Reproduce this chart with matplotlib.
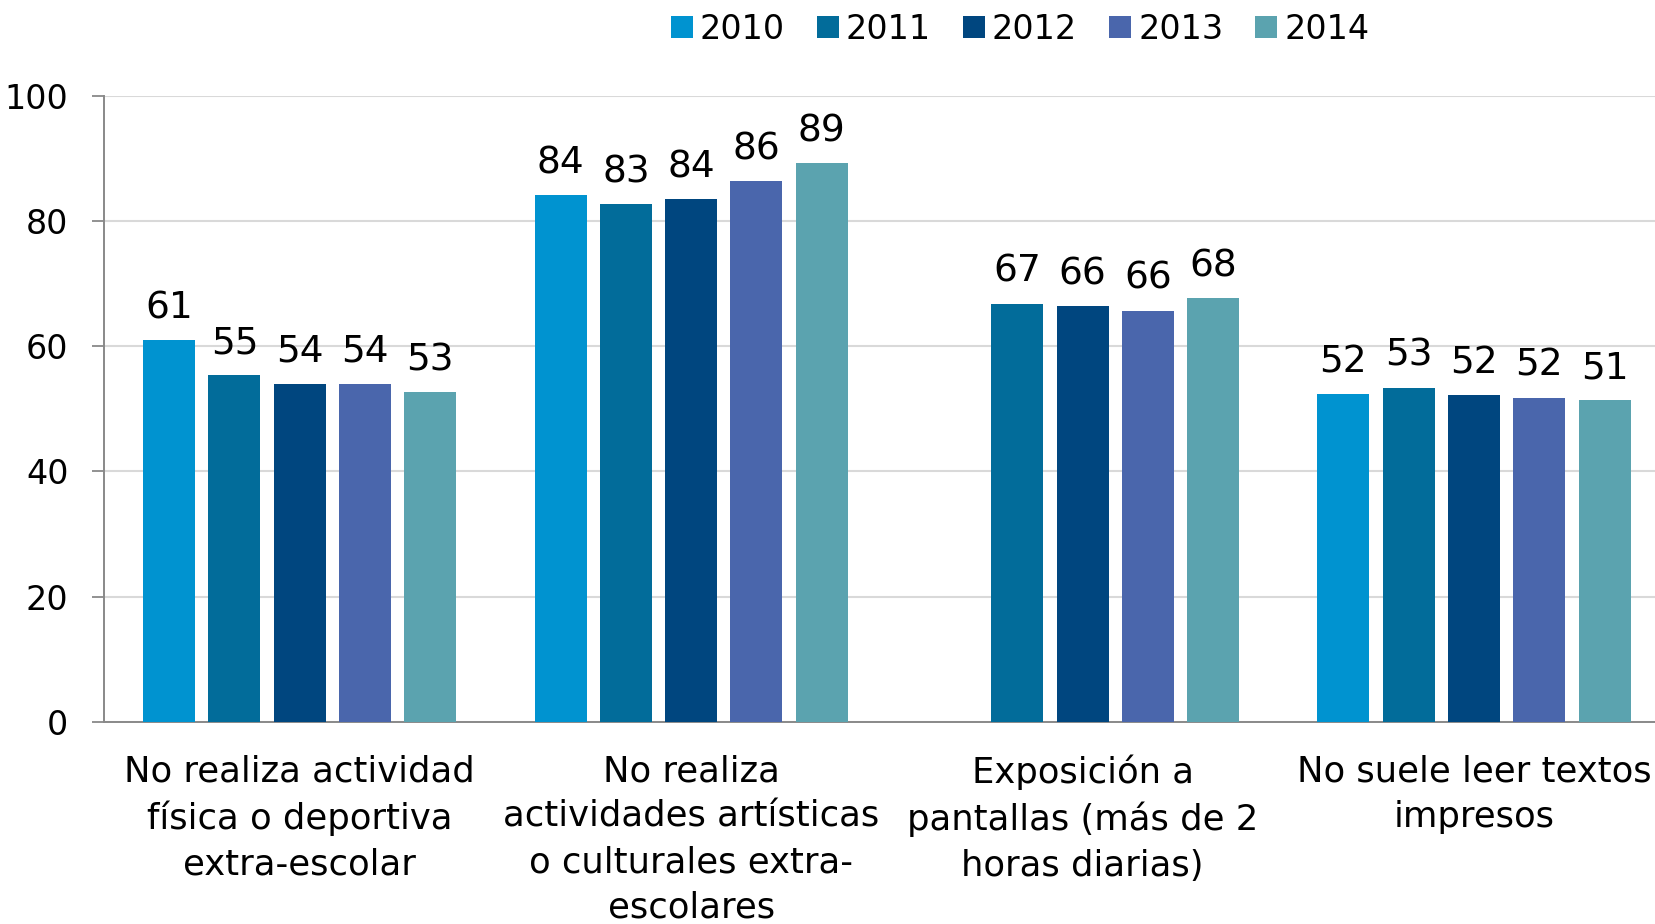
import numpy as np
import matplotlib
matplotlib.use('Agg')
import matplotlib.pyplot as plt

plt.rcParams['font.family'] = ['DejaVu Sans']

# data
categories = ['No realiza actividad\nfísica o deportiva\nextra-escolar',
              'No realiza\nactividades artísticas\no culturales extra-\nescolares',
              'Exposición a\npantallas (más de 2\nhoras diarias)',
              'No suele leer textos\nimpresos']
years = ['2010', '2011', '2012', '2013', '2014']
v2010 = [61.0, 84.1, np.nan, 52.3]
v2011 = [55.4, 82.7, 66.8, 53.4]
v2012 = [54.0, 83.5, 66.4, 52.2]
v2013 = [54.0, 86.4, 65.7, 51.8]
v2014 = [52.7, 89.3, 67.7, 51.4]
lab2010 = ['61', '84', '', '52']
lab2011 = ['55', '83', '67', '53']
lab2012 = ['54', '84', '66', '52']
lab2013 = ['54', '86', '66', '52']
lab2014 = ['53', '89', '68', '51']
yticks = [0, 20, 40, 60, 80, 100]

series = [v2010, v2011, v2012, v2013, v2014]
labels = [lab2010, lab2011, lab2012, lab2013, lab2014]
colors = ['#0093D0', '#026C9A', '#00467F', '#4A66AC', '#5BA3AF']
gray = '#898989'

fig = plt.figure(figsize=(16.56, 9.24), dpi=100)
ax = fig.add_axes([104/1656, 1 - 721.7/924, 1 - 104/1656, (721.7 - 96)/924])

x = np.arange(len(categories))
step = 0.1668
width = 0.1329
for j, (vals, labs) in enumerate(zip(series, labels)):
    xs = x + (j - 2) * step
    ax.bar(xs, vals, width, color=colors[j], label=years[j], zorder=3)
    for xi, v, t in zip(xs, vals, labs):
        if t:
            ax.annotate(t, (xi, v), xytext=(0, 15.8), textcoords='offset points',
                        ha='center', va='baseline', fontsize=27, color='black')

ax.set_xlim(-0.5, 3.465)
ax.set_ylim(0, 100)
ax.set_yticks(yticks)
ax.set_xticks(x)
ax.set_xticklabels(categories, fontsize=25.5, linespacing=1.42)
ax.tick_params(axis='x', length=0, pad=23.5)
ax.tick_params(axis='y', length=8.6, width=1.3, color=gray, pad=17, labelsize=24)

ax.grid(axis='y', color='#D9D9D9', linewidth=1.5, zorder=0)
ax.set_axisbelow(True)
for s in ['top', 'right']:
    ax.spines[s].set_visible(False)
for s in ['left', 'bottom']:
    ax.spines[s].set_color(gray)
    ax.spines[s].set_linewidth(1.4)

fig.legend(loc='center', bbox_to_anchor=(0.616, 0.9686), ncol=5, frameon=False,
           fontsize=24, handlelength=0.66, handleheight=0.66, handletextpad=0.21,
           columnspacing=0.96, borderaxespad=0, borderpad=0)

fig.savefig('out.png', dpi=100)
